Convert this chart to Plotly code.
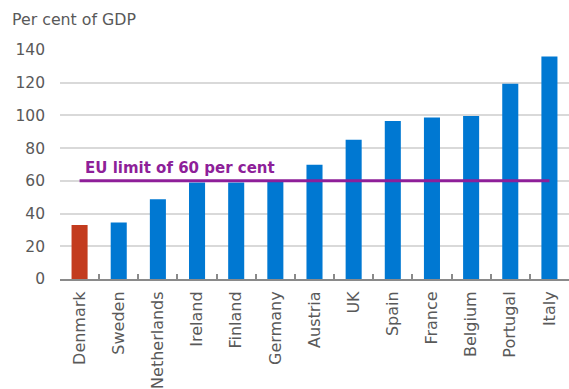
import plotly.graph_objects as go

# Government debt by country, per cent of GDP
countries = ["Denmark", "Sweden", "Netherlands", "Ireland", "Finland", "Germany",
             "Austria", "UK", "Spain", "France", "Belgium", "Portugal", "Italy"]
debt = [33, 34.6, 48.7, 59, 59, 59.5, 69.8, 85.1, 96.6, 98.8, 99.6, 119.4, 136]
highlight = "Denmark"
eu_limit = 60
limit_label = "EU limit of 60 per cent"
y_title = "Per cent of GDP"
y_ticks = [0, 20, 40, 60, 80, 100, 120, 140]

BLUE = "#0078D2"
RED = "#C33B1E"
PURPLE = "#8E1F99"
GREY_TXT = "#595959"
FONT = "DejaVu Sans"

bar_colors = [RED if c == highlight else BLUE for c in countries]

fig = go.Figure()
fig.add_trace(go.Bar(
    x=countries, y=debt, marker=dict(color=bar_colors, line=dict(width=0)),
    width=0.41, hoverinfo="skip", showlegend=False,
))
fig.add_trace(go.Scatter(
    x=[countries[0], countries[-1]], y=[eu_limit, eu_limit], mode="lines",
    line=dict(color=PURPLE, width=3), hoverinfo="skip", showlegend=False,
))

fig.add_annotation(
    x=2.56, y=eu_limit, xref="x", yref="y", text=f"<b>{limit_label}</b>",
    showarrow=False, xanchor="center", yanchor="bottom", yshift=2,
    font=dict(family=FONT, size=15, color=PURPLE),
)
fig.add_annotation(
    x=-60 / 509, y=1.0, xref="paper", yref="paper", text=y_title,
    showarrow=False, xanchor="left", yanchor="bottom", yshift=19, xshift=10,
    font=dict(family=FONT, size=15.8, color=GREY_TXT),
)

fig.update_layout(
    width=569, height=389,
    margin=dict(l=60, r=0, t=50, b=110),
    paper_bgcolor="white", plot_bgcolor="white",
    bargap=0.59,
    font=dict(family=FONT, color=GREY_TXT),
    xaxis=dict(
        type="category", tickangle=-90, tickfont=dict(size=16, color=GREY_TXT),
        showline=True, linecolor="#8A8A8A", linewidth=2,
        ticks="inside", tickson="boundaries", ticklen=5, tickcolor="#8A8A8A", tickwidth=1.5,
        showgrid=False, ticklabelstandoff=4,
    ),
    yaxis=dict(
        range=[0, 140], tickvals=y_ticks, tickfont=dict(size=15.5, color=GREY_TXT),
        showgrid=True, gridcolor="#D9D9D9", gridwidth=1.5, zeroline=False,
        showline=False, ticks="", ticklabelstandoff=14,
    ),
)

fig.write_html("out.html")
